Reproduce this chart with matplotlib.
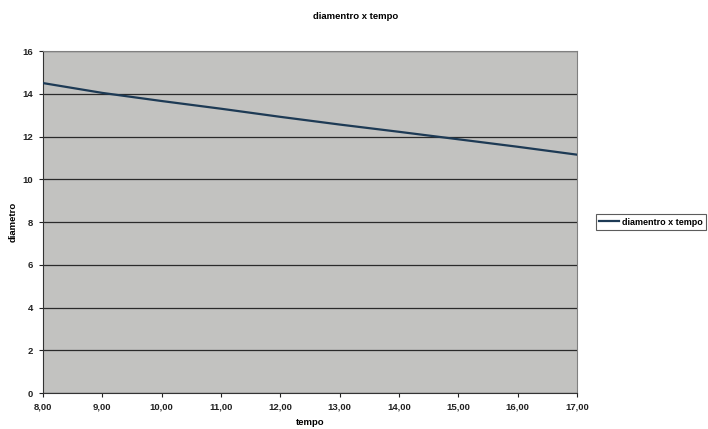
import matplotlib
matplotlib.use("Agg")

import matplotlib.pyplot as plt
import numpy as np

# diameter readings over time
tempo = [8, 9, 10, 11, 12, 13, 14, 15, 16, 17]
diametro = [14.50, 14.04, 13.66, 13.30, 12.92, 12.56, 12.22, 11.87, 11.52, 11.15]

x_ticks = np.arange(8, 18, 1)
y_ticks = np.arange(0, 17, 2)

plt.rcParams['font.family'] = ['Liberation Sans', 'DejaVu Sans']
plt.rcParams['font.weight'] = 'bold'

fig = plt.figure(figsize=(7.08, 4.29), dpi=100)
ax = fig.add_axes([0.0607, 0.0839, 0.7543, 0.7972])
ax.set_facecolor('#c2c2c0')

ax.plot(tempo, diametro, color='#1d3a55', linewidth=1.6, label='diamentro x tempo', zorder=3)

ax.set_xlim(8, 17)
ax.set_ylim(0, 16)
ax.set_xticks(x_ticks)
ax.set_xticklabels([f"{v:.2f}".replace('.', ',') for v in x_ticks])
ax.set_yticks(y_ticks)
ax.tick_params(axis='both', labelsize=6.8, direction='out', length=3, width=0.8, colors='#222222')
ax.tick_params(axis='y', pad=4)

ax.grid(axis='y', color='#2a2a2a', linewidth=0.9)
ax.set_axisbelow(True)
for side in ['top', 'right']:
    ax.spines[side].set_color('#808080')
    ax.spines[side].set_linewidth(0.8)
for side in ['left', 'bottom']:
    ax.spines[side].set_color('#333333')
    ax.spines[side].set_linewidth(0.8)

ax.set_xlabel('tempo', fontsize=6.8, fontweight='bold', labelpad=5)
ax.set_ylabel('diametro', fontsize=6.8, fontweight='bold')
ax.yaxis.set_label_coords(-0.047, 0.5)
fig.text(0.502, 0.962, 'diamentro x tempo', ha='center', va='center', fontsize=6.8, fontweight='bold')

leg = ax.legend(loc='center left', bbox_to_anchor=(1.036, 0.5), fontsize=6.5, frameon=True,
                fancybox=False, handlelength=2.2, handletextpad=0.3, borderpad=0.35,
                borderaxespad=0)
leg.get_frame().set_edgecolor('#333333')
leg.get_frame().set_linewidth(0.8)

fig.savefig('out.png', dpi=100)
